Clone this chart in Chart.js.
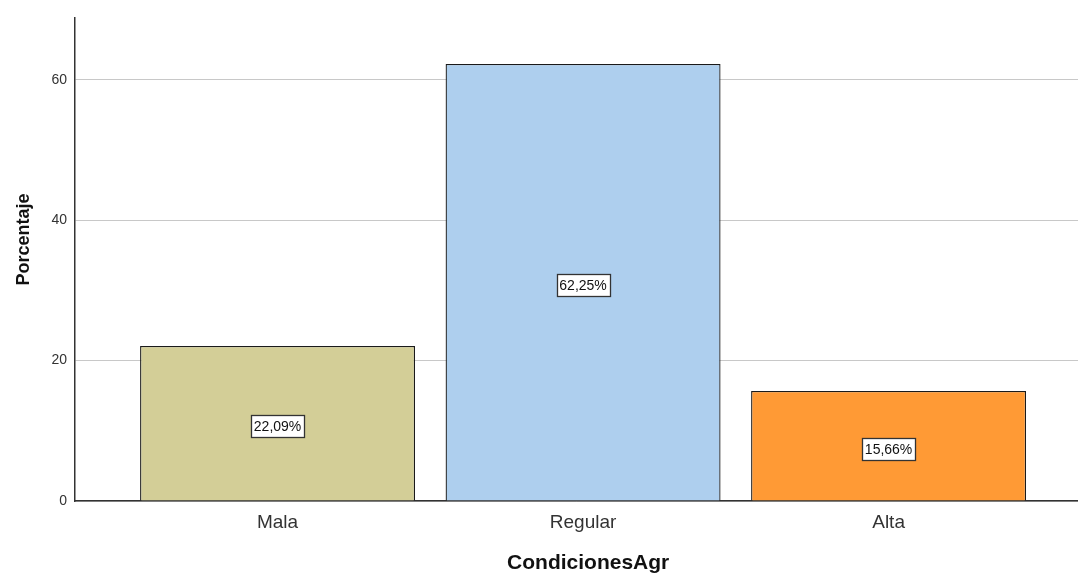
<!DOCTYPE html>
<html>
<head>
<meta charset="utf-8">
<script src="https://cdn.jsdelivr.net/npm/chart.js@4"></script>
<style>
  html, body { margin: 0; padding: 0; background: #fff; }
  #wrap { width: 1078px; height: 574px; }
</style>
</head>
<body>
<div id="wrap"><canvas id="chart" width="1078" height="574"></canvas></div>
<script>
// --- data ---
const categories = ['Mala', 'Regular', 'Alta'];
const percentages = [22.09, 62.25, 15.66];
const barColors = ['#d3ce97', '#aecfee', '#ff9a35'];
const yTicks = [0, 20, 40, 60];

// value labels in a white box at mid-height of each bar
const boxLabels = {
  id: 'boxLabels',
  afterDatasetsDraw(chart) {
    const ctx = chart.ctx;
    const meta = chart.getDatasetMeta(0);
    ctx.save();
    ctx.font = '14px "Liberation Sans", Arial, sans-serif';
    ctx.textAlign = 'center';
    ctx.textBaseline = 'middle';
    meta.data.forEach((bar, i) => {
      const txt = percentages[i].toFixed(2).replace('.', ',') + '%';
      const cx = bar.x;
      const cy = (bar.y + bar.base) / 2 + 3;
      const w = Math.round(ctx.measureText(txt).width + 6);
      const h = 22;
      const x0 = Math.round(cx - w / 2) + 0.5, y0 = Math.round(cy - h / 2) + 0.5;
      ctx.fillStyle = '#fff';
      ctx.fillRect(x0, y0, w, h);
      ctx.strokeStyle = '#333';
      ctx.lineWidth = 1.3;
      ctx.strokeRect(x0, y0, w, h);
      ctx.fillStyle = '#111';
      ctx.fillText(txt, cx, cy + 1);
    });
    ctx.restore();
  }
};

new Chart(document.getElementById('chart'), {
  type: 'bar',
  data: {
    datasets: [{
      data: percentages.map((v, i) => ({ x: i, y: v })),
      backgroundColor: barColors,
      borderColor: '#1a1a1a',
      borderWidth: 1.3,
      borderSkipped: 'bottom',
      barPercentage: 0.9,
      categoryPercentage: 1
    }]
  },
  options: {
    responsive: false,
    animation: false,
    layout: { padding: { top: 18, right: 0, left: 0, bottom: 0 } },
    plugins: { legend: { display: false }, tooltip: { enabled: false } },
    scales: {
      x: {
        type: 'linear',
        offset: false,
        min: -0.663,
        max: 2.62,
        afterBuildTicks: s => { s.ticks = categories.map((c, i) => ({ value: i })); },
        afterFit: s => { s.height = 73; },
        grid: { display: false, drawTicks: false },
        border: { display: true, color: '#333', width: 1.5 },
        ticks: {
          callback: v => categories[v],
          padding: 10,
          color: '#333',
          font: { family: '"Liberation Sans", Arial, sans-serif', size: 19 }
        },
        title: {
          display: true,
          text: '    CondicionesAgr',
          color: '#111',
          padding: { top: 0, bottom: 0 },
          font: { family: '"Liberation Sans", Arial, sans-serif', size: 21, weight: 'bold', lineHeight: 1.0 }
        }
      },
      y: {
        min: 0,
        max: 68.8,
        afterBuildTicks: s => { s.ticks = yTicks.map(v => ({ value: v })); },
        afterFit: s => { s.width = 75; },
        grid: { color: '#c8c8c8', lineWidth: 1, drawTicks: false },
        border: { display: true, color: '#333', width: 1.5 },
        ticks: {
          padding: 8,
          color: '#333',
          font: { family: '"Liberation Sans", Arial, sans-serif', size: 14 }
        },
        title: {
          display: true,
          text: '        Porcentaje',
          color: '#111',
          padding: { top: 13, bottom: 0 },
          font: { family: '"Liberation Sans", Arial, sans-serif', size: 18, weight: 'bold' }
        }
      }
    }
  },
  plugins: [boxLabels]
});
</script>
</body>
</html>
